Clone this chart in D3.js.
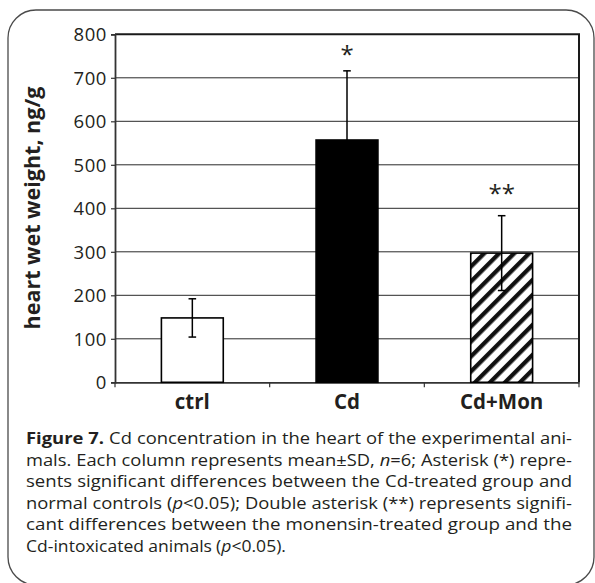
<!DOCTYPE html>
<html>
<head>
<meta charset="utf-8">
<script src="https://cdn.jsdelivr.net/npm/d3@7"></script>
<style>
  html, body { margin: 0; padding: 0; background: #fff; }
  svg { display: block; }
</style>
</head>
<body>
<svg id="chart" width="595" height="583"></svg>
<script>
// ---- data ----
const categories = ["ctrl", "Cd", "Cd+Mon"];
const means = [148, 557, 297];
const sds = [44, 159, 86];
const fills = ["white", "black", "hatch"];
const sigLabels = ["", "*", "**"];
const sigLevels = [null, 756, 437];
const yTicks = [0, 100, 200, 300, 400, 500, 600, 700, 800];
const yTitle = "heart wet weight, ng/g";
const captionLines = [
  "^Figure 7.^ Cd concentration in the heart of the experimental ani-",
  "mals. Each column represents mean±SD, ~n~=6; Asterisk (*) repre-",
  "sents significant differences between the Cd-treated group and",
  "normal controls (~p~<0.05); Double asterisk (**) represents signifi-",
  "cant differences between the monensin-treated group and the",
  "Cd-intoxicated animals (~p~<0.05)."
];

// ---- layout ----
const W = 595, H = 583;
const plot = { left: 115, right: 579, top: 34.3, bottom: 382.3 };
const svg = d3.select("#chart");
const font = "'Open Sans', 'Noto Sans', sans-serif";
const textCol = "#231f20";

// frame
(function () {
  const x0 = 8, y0 = 10, x1 = 594, y1 = 585, r = 28;
  const p = d3.path();
  p.moveTo(x0 + r, y0);
  p.lineTo(x1 - r, y0);
  p.arcTo(x1, y0, x1, y0 + r, r);
  p.lineTo(x1, y1 - r);
  p.arcTo(x1, y1, x1 - r, y1, r);
  p.lineTo(x0 + r, y1);
  p.arcTo(x0, y1, x0, y1 - r, r);
  p.lineTo(x0, y0 + r);
  p.arcTo(x0, y0, x0 + r, y0, r);
  p.closePath();
  svg.append("path").attr("d", p.toString()).attr("fill", "none")
    .attr("stroke", "#4a4a4a").attr("stroke-width", 1.3);
})();

// pattern
const defs = svg.append("defs");
const pat = defs.append("pattern").attr("id", "hatch")
  .attr("patternUnits", "userSpaceOnUse")
  .attr("width", 10.6).attr("height", 10.6)
  .attr("patternTransform", "rotate(45)");
pat.append("rect").attr("width", 10.6).attr("height", 10.6).attr("fill", "white");
pat.append("rect").attr("width", 4.3).attr("height", 10.6).attr("fill", "#111");

// scales
const y = d3.scaleLinear().domain([0, 800]).range([plot.bottom, plot.top]);
const x = d3.scaleBand().domain(categories).range([plot.left, plot.right]).padding(0);
const barW = x.bandwidth() * 0.4;

// gridlines
svg.append("g").selectAll("line").data(yTicks.filter(d => d > 0 && d < 800)).join("line")
  .attr("x1", plot.left).attr("x2", plot.right)
  .attr("y1", d => y(d)).attr("y2", d => y(d))
  .attr("stroke", "#2a2a2a").attr("stroke-width", 1);

// top and right border
svg.append("path")
  .attr("d", `M${plot.left},${y(800)}H${plot.right}V${plot.bottom}`)
  .attr("fill", "none").attr("stroke", "#1a1a1a").attr("stroke-width", 2);

// y axis
const yAxis = d3.axisLeft(y).tickValues(yTicks).tickSize(4).tickPadding(4);
const gy = svg.append("g").attr("transform", `translate(${plot.left},0)`).call(yAxis);
gy.select(".domain").attr("stroke", "#333").attr("stroke-width", 1.8);
gy.selectAll(".tick line").attr("stroke", "#333").attr("stroke-width", 1.2);
gy.selectAll(".tick text").attr("font-family", font).attr("font-size", 18.5)
  .attr("fill", textCol).attr("letter-spacing", 0.6).attr("dy", "0.35em");

// x axis
const xAxis = d3.axisBottom(x).tickSize(0).tickPadding(12);
const gx = svg.append("g").attr("transform", `translate(0,${plot.bottom})`).call(xAxis);
gx.select(".domain").attr("stroke", "#333").attr("stroke-width", 1.8);
gx.selectAll(".tick text").attr("font-family", font).attr("font-size", 20.5)
  .attr("font-weight", "bold").attr("fill", textCol);
// category boundary ticks
const bounds = [plot.left].concat(categories.map(c => x(c) + x.bandwidth()));
svg.append("g").selectAll("line").data(bounds).join("line")
  .attr("x1", d => d).attr("x2", d => d)
  .attr("y1", plot.bottom).attr("y2", plot.bottom + 5)
  .attr("stroke", "#333").attr("stroke-width", 1.2);

// bars
const data = categories.map((c, i) => ({ c, m: means[i], sd: sds[i], f: fills[i], s: sigLabels[i], sl: sigLevels[i] }));
svg.append("g").selectAll("rect").data(data).join("rect")
  .attr("x", d => x(d.c) + (x.bandwidth() - barW) / 2)
  .attr("width", barW)
  .attr("y", d => y(d.m))
  .attr("height", d => y(0) - y(d.m))
  .attr("fill", d => d.f === "hatch" ? "url(#hatch)" : d.f)
  .attr("stroke", "#000").attr("stroke-width", 1.6);

// error bars
const eb = svg.append("g").attr("stroke", "#000").attr("stroke-width", 1.5);
data.forEach(d => {
  const cx = x(d.c) + x.bandwidth() / 2;
  eb.append("line").attr("x1", cx).attr("x2", cx).attr("y1", y(d.m + d.sd)).attr("y2", y(d.m - d.sd));
  [d.m + d.sd, d.m - d.sd].forEach(v => {
    eb.append("line").attr("x1", cx - 3.8).attr("x2", cx + 3.8).attr("y1", y(v)).attr("y2", y(v));
  });
});

// significance marks
data.filter(d => d.s).forEach(d => {
  const cx = x(d.c) + x.bandwidth() / 2;
  svg.append("text").attr("x", cx).attr("y", y(d.sl) + 10)
    .attr("text-anchor", "middle").attr("font-family", font)
    .attr("font-size", 24).attr("fill", textCol).text(d.s);
});

// y title
svg.append("text")
  .attr("transform", `translate(40,208) rotate(-90)`)
  .attr("text-anchor", "middle")
  .attr("font-family", font).attr("font-size", 21.5).attr("font-weight", "bold")
  .attr("fill", textCol).text(yTitle);

// caption (justified; glyphs scaled horizontally per line to mimic the original face)
const capLeft = 26, capRight = 572, capBase = 444, capStep = 21.5;
const capSize = 16.8;
function parseWord(w) {
  const segs = [];
  const re = /(\^[^^]*\^|~[^~]*~|[^^~]+)/g;
  let m;
  while ((m = re.exec(w)) !== null) {
    const s = m[0];
    if (s[0] === "^") segs.push({ t: s.slice(1, -1), b: true });
    else if (s[0] === "~") segs.push({ t: s.slice(1, -1), i: true });
    else segs.push({ t: s });
  }
  return segs;
}
function splitWords(line) {
  const words = [];
  const boldMatch = line.match(/^\^([^^]*)\^ (.*)$/);
  let rest = line;
  if (boldMatch) {
    boldMatch[1].split(" ").forEach(w => words.push("^" + w + "^"));
    rest = boldMatch[2];
  }
  rest.split(" ").forEach(w => words.push(w));
  return words;
}
const capG = svg.append("g");
const ctx = document.createElement("canvas").getContext("2d");
function measureWord(w) {
  let total = 0;
  parseWord(w).forEach(s => {
    ctx.font = `${s.i ? "italic " : ""}${s.b ? "bold " : ""}${capSize}px 'Open Sans'`;
    total += ctx.measureText(s.t).width;
  });
  return total;
}
function layoutCaption() {
  capG.selectAll("*").remove();
  const avail = capRight - capLeft;
  const targetGap = 5;
  const info = captionLines.map((line, li) => {
    const words = splitWords(line);
    const widths = words.map(measureWord);
    const justify = li < captionLines.length - 1;
    let sx = justify ? (avail - targetGap * (words.length - 1)) / d3.sum(widths) : null;
    if (sx !== null) sx = Math.max(0.8, Math.min(1.12, sx));
    return { words, widths, justify, sx, li };
  });
  const meanSx = d3.mean(info.filter(d => d.justify), d => d.sx) * 0.95;
  info.forEach(d => {
    const sx = d.sx === null ? meanSx : d.sx;
    const total = d3.sum(d.widths) * sx;
    const gap = d.justify ? (avail - total) / (d.words.length - 1) : 4.2;
    const by = capBase + d.li * capStep;
    let cx = capLeft;
    d.words.forEach((w, i) => {
      const t = capG.append("text").attr("font-family", font)
        .attr("font-size", capSize).attr("fill", textCol)
        .attr("transform", `translate(${cx},${by}) scale(${sx},1)`);
      parseWord(w).forEach(s => {
        const ts = t.append("tspan").text(s.t);
        if (s.b) ts.attr("font-weight", "bold");
        if (s.i) ts.attr("font-style", "italic");
      });
      cx += d.widths[i] * sx + gap;
    });
  });
}
layoutCaption();
if (document.fonts && document.fonts.load) {
  Promise.all([
    document.fonts.load(`${capSize}px 'Open Sans'`),
    document.fonts.load(`bold ${capSize}px 'Open Sans'`),
    document.fonts.load(`italic ${capSize}px 'Open Sans'`)
  ]).then(layoutCaption).catch(() => {});
}
</script>
</body>
</html>
